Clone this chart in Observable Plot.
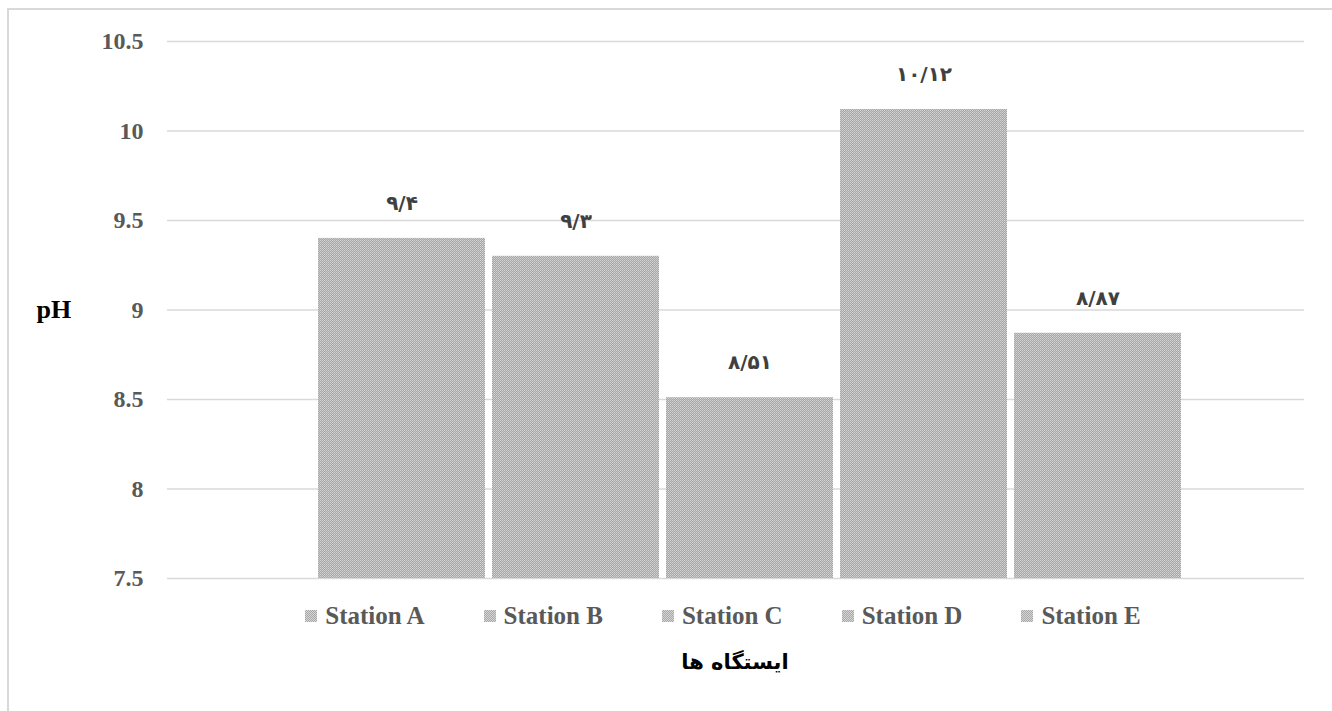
<!DOCTYPE html>
<html>
<head>
<meta charset="utf-8">
<script src="https://cdn.jsdelivr.net/npm/d3@7"></script>
<script src="https://cdn.jsdelivr.net/npm/@observablehq/plot@0.6"></script>
<style>
  html, body { margin: 0; padding: 0; background: #fff; width: 1332px; height: 711px; overflow: hidden; }
  #frame { position: absolute; left: 7px; top: 8px; width: 1340px; height: 720px;
           border-left: 2px solid #d9d9d9; border-top: 2px solid #d9d9d9; box-sizing: border-box; }
  #chart { position: absolute; left: 0; top: 0; }
  #legend { position: absolute; left: 114px; top: 600px; width: 1218px; height: 32px;
            display: flex; justify-content: center; align-items: center;
            font-family: "Liberation Serif", "Times New Roman", "DejaVu Serif", serif; font-weight: bold; font-size: 25px; color: #595959; }
  .item { display: flex; align-items: center; margin: 0 29.5px; }
  .sw { width: 12px; height: 12px; margin-right: 8px; background: repeating-conic-gradient(#a8a8a8 0 25%, #d6d6d6 0 50%) 0 0 / 2px 2px; }
  #xtitle { position: absolute; left: 0; top: 650px; width: 1470px; text-align: center;
            font-family: "DejaVu Sans", sans-serif; font-weight: bold; font-size: 21px; color: #000; direction: rtl; }
</style>
</head>
<body>
<div id="frame"></div>
<div id="chart"></div>
<div id="legend"></div>
<div id="xtitle"></div>
<script>
const stations = ["Station A", "Station B", "Station C", "Station D", "Station E"];
const phValues = [9.4, 9.3, 8.51, 10.12, 8.87];
const yTicks = [7.5, 8, 8.5, 9, 9.5, 10, 10.5];
const yDomain = [7.5, 10.5];
const yLabel = "pH";
const xTitle = "ایستگاه ها";

const serif = "Liberation Serif, Times New Roman, DejaVu Serif, serif";
const persianDigits = "۰۱۲۳۴۵۶۷۸۹";
const toPersian = v => String(v).replace(".", "/").replace(/\d/g, d => persianDigits[+d]);

const data = stations.map((s, i) => ({station: s, value: phValues[i]}));

const plot = Plot.plot({
  width: 1332,
  height: 600,
  marginLeft: 167,
  marginRight: 28,
  marginTop: 41,
  marginBottom: 22,
  style: {fontFamily: serif},
  x: {type: "band", domain: stations, insetLeft: 149, insetRight: 121, paddingInner: 0.038, paddingOuter: 0, axis: null},
  y: {domain: yDomain, ticks: yTicks, label: null},
  marks: [
    Plot.gridY(yTicks, {stroke: "#d9d9d9", strokeOpacity: 1, strokeWidth: 1.5}),
    Plot.barY(data, {x: "station", y1: yDomain[0], y2: "value", fill: "url(#chk)"}),
    Plot.axisY({ticks: yTicks, tickSize: 0, tickPadding: 24, label: null, tickFormat: d => String(d),
      fontFamily: serif, fontWeight: "bold", fontSize: 24, fill: "#595959"}),
    Plot.text(data, {x: "station", y: "value", text: d => toPersian(d.value), dy: -35,
      fontFamily: "DejaVu Sans", fontWeight: "bold", fontSize: 20, fill: "#404040"}),
    Plot.text([yLabel], {frameAnchor: "left", text: d => d, textAnchor: "start", dx: -131,
      fontFamily: serif, fontWeight: "bold", fontSize: 26, fill: "#000"})
  ]
});
plot.style.overflow = "visible";
const ns = "http://www.w3.org/2000/svg";
const defs = document.createElementNS(ns, "defs");
defs.innerHTML = `<pattern id="chk" width="2" height="2" patternUnits="userSpaceOnUse">
  <rect width="2" height="2" fill="#a6a6a6"/><rect width="1" height="1" fill="#d6d6d6"/><rect x="1" y="1" width="1" height="1" fill="#c6c6c6"/></pattern>`;
plot.insertBefore(defs, plot.firstChild);
document.getElementById("chart").appendChild(plot);

const legend = document.getElementById("legend");
stations.forEach(s => {
  const it = document.createElement("div");
  it.className = "item";
  const sw = document.createElement("span");
  sw.className = "sw";
  const tx = document.createElement("span");
  tx.textContent = s;
  it.appendChild(sw); it.appendChild(tx);
  legend.appendChild(it);
});
document.getElementById("xtitle").textContent = xTitle;
</script>
</body>
</html>
